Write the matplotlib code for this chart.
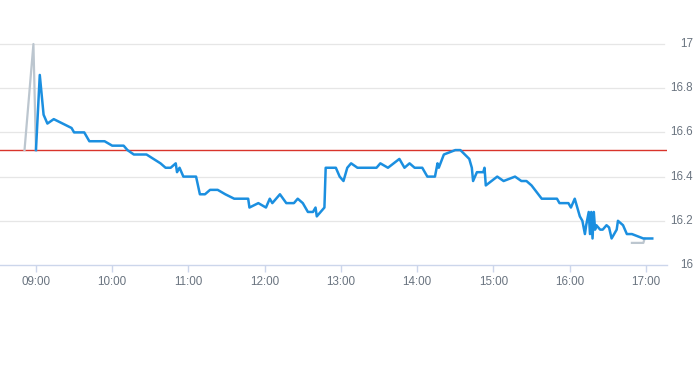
import matplotlib
matplotlib.use('Agg')
import matplotlib.pyplot as plt

# intraday price (blue)
price_times = ['09:00', '09:03', '09:06', '09:09', '09:14', '09:28', '09:30', '09:38', '09:42', '09:54',
               '10:00', '10:09', '10:12', '10:17', '10:27', '10:38', '10:42', '10:46', '10:50', '10:51',
               '10:53', '10:56', '11:06', '11:09', '11:13', '11:17', '11:23', '11:29', '11:36', '11:47',
               '11:48', '11:55', '12:01', '12:04', '12:06', '12:12', '12:17', '12:23', '12:26', '12:30',
               '12:34', '12:38', '12:40', '12:41', '12:47', '12:48', '12:56', '12:59', '13:02', '13:05',
               '13:08', '13:13', '13:28', '13:31', '13:37', '13:46', '13:50', '13:54', '13:58', '14:04',
               '14:08', '14:14', '14:16', '14:17', '14:21', '14:30', '14:34', '14:41', '14:43', '14:44',
               '14:47', '14:52', '14:53', '14:54', '15:03', '15:08', '15:17', '15:22', '15:26', '15:30',
               '15:38', '15:50', '15:52', '15:59', '16:01', '16:04', '16:08', '16:10', '16:12', '16:13',
               '16:15', '16:16', '16:17', '16:18', '16:19', '16:20', '16:21', '16:24', '16:26', '16:29',
               '16:31', '16:33', '16:35', '16:37', '16:38', '16:42', '16:45', '16:49', '16:58', '17:05']
price_values = [16.52, 16.86, 16.68, 16.64, 16.66, 16.62, 16.60, 16.60, 16.56, 16.56,
                16.54, 16.54, 16.52, 16.50, 16.50, 16.46, 16.44, 16.44, 16.46, 16.42,
                16.44, 16.40, 16.40, 16.32, 16.32, 16.34, 16.34, 16.32, 16.30, 16.30,
                16.26, 16.28, 16.26, 16.30, 16.28, 16.32, 16.28, 16.28, 16.30, 16.28,
                16.24, 16.24, 16.26, 16.22, 16.26, 16.44, 16.44, 16.40, 16.38, 16.44,
                16.46, 16.44, 16.44, 16.46, 16.44, 16.48, 16.44, 16.46, 16.44, 16.44,
                16.40, 16.40, 16.46, 16.44, 16.50, 16.52, 16.52, 16.48, 16.44, 16.38,
                16.42, 16.42, 16.44, 16.36, 16.40, 16.38, 16.40, 16.38, 16.38, 16.36,
                16.30, 16.30, 16.28, 16.28, 16.26, 16.30, 16.22, 16.20, 16.14, 16.18,
                16.24, 16.14, 16.24, 16.12, 16.24, 16.16, 16.18, 16.16, 16.16, 16.18,
                16.17, 16.12, 16.14, 16.16, 16.20, 16.18, 16.14, 16.14, 16.12, 16.12]

# pre / post market (grey)
pre_times = ['08:51', '08:58', '09:00']
pre_values = [16.52, 17.00, 16.52]
post_times = ['16:49', '16:58', '16:59']
post_values = [16.10, 16.10, 16.12]

prev_close = 16.52

hour_ticks = ['09:00', '10:00', '11:00', '12:00', '13:00', '14:00', '15:00', '16:00', '17:00']
y_ticks = [16, 16.2, 16.4, 16.6, 16.8, 17]
y_labels = ['16', '16.2', '16.4', '16.6', '16.8', '17']


def to_hours(t):
    h, m = t.split(':')
    return int(h) + int(m) / 60


fig = plt.figure(figsize=(6.93, 3.65), dpi=100)
ax = fig.add_axes([0, 100 / 365, 667 / 693, 221 / 365])

ax.set_xlim(to_hours('08:31') + 0.7 / 60, to_hours('17:16') + 0.6 / 60)
ax.set_ylim(16, 17)

# grid stops a little short of the axis end
x_lo, x_hi = ax.get_xlim()
grid_end = x_lo + (x_hi - x_lo) * 664 / 667
for v in y_ticks[1:]:
    ax.plot([x_lo, grid_end], [v, v], color='#e6e6e6', lw=0.9, zorder=0, clip_on=False)

ax.axhline(prev_close, color='#d9342b', lw=1.0, zorder=2)

ax.plot([to_hours(t) for t in pre_times], pre_values, color='#bcc6cf', lw=1.6, zorder=3,
        clip_on=False)
ax.plot([to_hours(t) for t in post_times], post_values, color='#bcc6cf', lw=1.6, zorder=3)
ax.plot([to_hours(t) for t in price_times], price_values, color='#1b8fe0', lw=1.8, zorder=4,
        solid_joinstyle='round')

for s in ['top', 'left', 'right']:
    ax.spines[s].set_visible(False)
ax.spines['bottom'].set_color('#ccd6eb')
ax.spines['bottom'].set_linewidth(1.0)

ax.set_xticks([to_hours(t) for t in hour_ticks])
ax.set_xticklabels(hour_ticks)
ax.tick_params(axis='x', length=5, width=1, color='#ccd6eb', pad=3,
               labelsize=8.4, labelcolor='#6a7480')
for lbl in ax.get_xticklabels():
    lbl.set_family('Liberation Sans')

ax.set_yticks([])
for v, lab in zip(y_ticks, y_labels):
    fig.text(693 / 693, (100 + (v - 16) * 221) / 365, lab, ha='right', va='center',
             fontsize=8.4, color='#6a7480', family='Liberation Sans')

fig.savefig('out.png', dpi=100)
